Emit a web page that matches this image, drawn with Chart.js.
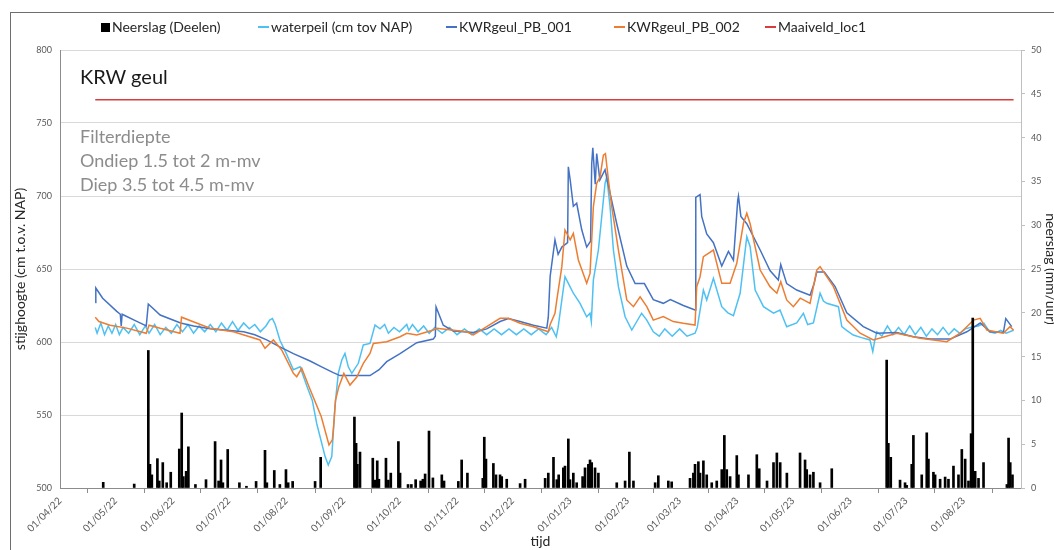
<!DOCTYPE html>
<html>
<head>
<meta charset="utf-8">
<script src="https://cdn.jsdelivr.net/npm/chart.js@4.4.1/dist/chart.umd.min.js"></script>
<style>
body{margin:0;background:#fff;font-family:Lato,"Open Sans",sans-serif;}
#wrap{position:relative;width:1054px;height:550px;overflow:hidden;}
#frame{position:absolute;left:10px;top:12px;width:1100px;height:600px;border:1px solid #6e6e6e;}
canvas{position:absolute;left:0;top:0;}
.lg{position:absolute;top:18px;font-size:14px;color:#262626;white-space:nowrap;line-height:18px;}
.lg i{display:inline-block;vertical-align:middle;margin-right:2px;position:relative;top:-1px;}
.sq{width:9px;height:9px;background:#000;}
.ln{width:11px;height:2px;}
.note{position:absolute;left:80px;white-space:nowrap;}
</style>
</head>
<body>
<div id="wrap">
  <div id="frame"></div>
  <canvas id="chart" width="1054" height="550"></canvas>
  <div class="lg" style="left:101px"><i class="sq"></i>Neerslag (Deelen)</div>
  <div class="lg" style="left:258px"><i class="ln" style="background:#4EC1F2"></i>waterpeil (cm tov NAP)</div>
  <div class="lg" style="left:446px"><i class="ln" style="background:#4472C4"></i>KWRgeul_PB_001</div>
  <div class="lg" style="left:614px"><i class="ln" style="background:#ED7D31"></i>KWRgeul_PB_002</div>
  <div class="lg" style="left:765px"><i class="ln" style="background:#DC3B3B"></i>Maaiveld_loc1</div>
  <div class="note" style="top:63px;font-size:20px;line-height:26px;color:#1a1a1a">KRW geul</div>
  <div class="note" style="top:124px;font-size:18px;line-height:24px;color:#8c8c8c">Filterdiepte<br>Ondiep 1.5 tot 2 m-mv<br>Diep 3.5 tot 4.5 m-mv</div>
</div>
<script>
// x = days since 01/04/22
const tickLabels = ['01/04/22','01/05/22','01/06/22','01/07/22','01/08/22','01/09/22','01/10/22','01/11/22','01/12/22',
  '01/01/23','01/02/23','01/03/23','01/04/23','01/05/23','01/06/23','01/07/23','01/08/23'];
const xEnd = '01/09/23';

// neerslag Deelen [day, mm/uur]
const neerslag = [[23.3,0.65],[40,0.45],[47.6,15.7],[48.5,2.7],[49.5,1.5],[52.5,3.35],[53.5,0.8],[55.4,2.9],[57.5,0.6],[59.7,1.8],
  [64.3,4.45],[65.6,8.56],[66.5,1.3],[68,1.9],[69.2,4.7],[73,0.4],[78.7,0.95],[83.6,5.3],[85.5,0.8],[86.8,3.2],[87.8,0.6],[90.4,4.4],
  [96.7,0.6],[100.5,0.2],[105.7,0.75],[110.5,4.3],[111.5,0.6],[115.5,2.0],[118.5,0.4],[121.8,2.1],[123,0.6],[125.4,0.75],
  [137.5,0.75],[140.5,3.5],[158.7,8.1],[159.6,5.1],[160.3,2.7],[161.7,4.1],[168.6,3.4],[169.9,0.9],[171,3.1],[171.9,1.0],
  [175.7,3.4],[177,0.9],[178.3,1.7],[182.4,5.3],[183.3,1.7],[187.6,0.4],[189.4,0.4],[191.7,0.95],[194.4,0.8],[195.6,1.0],
  [196.8,1.6],[198.9,6.5],[201,1.15],[205.8,1.5],[207,0.8],[214.7,0.75],[216.5,3.2],[219.6,1.7],[227.9,1.1],[228.7,5.8],
  [229.6,3.3],[233.6,2.8],[235,1.5],[237.2,1.5],[238.1,1.3],[240.8,1.0],[248,0.5],[250.7,1.0],[261.5,1.1],[263.2,1.7],
  [266,3.5],[267.8,0.95],[268.8,1.5],[271.3,2.3],[272.2,2.5],[274,5.6],[274.9,0.95],[276.7,1.7],[278.5,0.6],[281.7,1.3],
  [283,2.3],[284.8,2.7],[285.7,3.2],[286.6,2.9],[288.4,2.3],[290.2,1.7],[300.1,0.6],[304.6,0.8],[306.9,4.1],[309.1,0.8],
  [320.8,0.6],[322.5,1.4],[327.9,0.8],[329.7,0.7],[339.6,1.1],[341.4,1.7],[342.3,2.7],[344.1,3.0],[345,1.7],[346.8,3.1],
  [348.6,1.5],[351.3,0.6],[354,0.8],[356.7,2.1],[358.1,6.0],[359.4,2.1],[361.2,1.3],[364.8,3.7],[365.7,1.5],[371.1,1.5],
  [375.6,3.8],[376.9,2.2],[381.1,0.8],[384.6,2.9],[386.4,4.0],[388.2,2.9],[391.8,1.7],[398.9,4.0],[401.6,3.2],[402.5,2.1],
  [404.3,1.5],[406.1,1.8],[409.7,0.6],[416,2.2],[445.6,14.6],[446.5,5.1],[447.8,3.5],[452.8,0.9],[455.5,0.6],[456.4,0.3],
  [459.1,2.7],[460,6.0],[464.5,1.5],[467.2,6.3],[468.1,3.3],[470.8,1.8],[471.7,1.5],[474.4,1.0],[477.1,1.25],[478.9,1.0],
  [481.6,2.5],[484.3,1.5],[486.1,4.4],[487.9,3.3],[489.7,0.8],[491.1,6.2],[492,19.4],[493.3,1.9],[495.1,1.1],[497.8,2.9],
  [510.4,0.4],[511.3,5.7],[512.2,2.9],[513.4,1.5]];

// waterpeil (cm tov NAP) [day, cm]
const waterpeil = [[19,610],[20,606],[22,613],[24,605],[26,611],[28,606],[30,612],[32,605],[34,610],[37,606],[40,612],[43,605],
  [46,611],[48,606],[51,612],[54,605],[57,610],[60,606],[63,612],[66,607],[69,612],[72,606],[75,611],[78,607],[81,612],[84,607],
  [87,613],[90,608],[93,614],[96,608],[99,613],[102,609],[105,612],[108,607],[111,611],[113,615],[114.5,616],[116,612],
  [118.6,601],[122,592],[125.8,581],[129.4,583],[133,570],[136,560],[138.4,544],[142.9,521.5],[144.6,515.8],[146.5,521.5],
  [148.2,555.7],[150,578.5],[151.9,587.7],[153.6,592.2],[155.4,583],[157.3,578.5],[160.8,585.4],[163.5,598],[167.1,599],
  [169.8,611.6],[172.5,609],[175,612],[177,606],[180,610],[183,607],[186.9,612],[188,608],[190,612],[193,607],[196,611],
  [199,606],[202,610],[206,606],[210,610],[214,605],[218,609],[222,605],[226,609],[230,605],[234,609],[238,605],[242,609],
  [246,605],[250,609],[254,605],[258,609],[262,605],[265,610],[267.5,603.6],[268.5,610],[272.2,644.7],[274.9,637.9],
  [276.7,633.4],[280.3,626.5],[283.9,617.3],[285.7,619.7],[286.4,614],[287.5,642.5],[290.2,663],[292,685.8],[293.8,708.7],
  [294.7,713],[296.5,692.7],[298.3,663],[301,637.9],[304.6,617.3],[308.2,608.2],[313.5,619.7],[316.3,615],[319.8,607],
  [323,604],[326,609],[330,604],[334,609],[338,604],[342.3,606],[343.5,610],[346.8,635.6],[348.6,628.8],[352.2,643.6],
  [356.7,624.2],[360,620],[363,618],[366.6,633.4],[370.2,672.1],[372,665.3],[374.7,635.6],[379.2,624.2],[384.6,619.7],
  [388.1,621.9],[391.7,610.5],[397.1,613.1],[400.7,619.7],[403,612],[406.1,613.1],[409.7,633.4],[411.5,628],[413.3,626.5],
  [419.6,624.2],[421.4,610.5],[424,608],[427.6,604.8],[432,603],[436.6,601.4],[438.1,593.4],[439,600],[440.3,607],[443,604],
  [446,611],[449,605],[452,610],[455,605],[458,611],[461,605],[464,610],[467,604],[470,609],[473,605],[476,610],[479,605],
  [482,609],[485,606],[488,609],[492,610.5],[495,611],[498,612.8],[501,607],[504,606],[507,608],[510,606],[514,608]];

// KWRgeul_PB_001 [day, cm]
const pb001 = [[19,627],[19.3,637],[23,630],[30.6,621],[32.5,619],[33,611],[33.5,619],[40,615],[46.5,611],[47.6,626],[54,618.5],
  [65,613],[72,611],[81,609],[90,608],[99,607],[105,605],[111.4,601.5],[118,597],[125.8,592],[134.8,587],[141,583],[147.3,579],
  [150.9,577],[160,577],[167.1,577],[172,581],[176.1,586.5],[183.3,592],[192.3,599.5],[201.2,602],[202.3,604],[202.7,624],
  [206.6,611.5],[212,607.5],[222.8,606.5],[230,609],[237.2,614],[241.7,616],[248,614],[255.2,611.5],[262.4,609.5],[263.2,617],
  [264.2,645],[266.8,670],[268.5,660],[270.5,665],[273.6,668],[274,720],[275,711],[276.7,693],[278.5,695],[281.2,677],
  [283.9,665],[286,669],[286.6,722],[287.2,733],[288.5,708],[289.3,729],[291,711],[293.8,718],[296.5,702],[300.1,681],
  [305.5,652],[310,640],[315,640],[319.8,629],[325.2,626.5],[329,629],[336,625],[342.3,622],[342.7,699],[345,701],[345.9,686],
  [348.6,674],[352.2,668],[356.7,652],[360.3,662],[363,656],[365.3,697],[365.7,700],[367,686],[370.2,681],[377.4,663],
  [382.7,649],[387.2,642.5],[388.5,653],[391.7,640],[397.1,635.6],[404.3,632],[406.5,640],[407.9,648],[412,648],[417.8,638],
  [424.1,620],[433,610.5],[440.3,606],[451,606.5],[460,603.6],[469,602],[479.8,602],[488.8,607],[496,613],[501.3,607],
  [508.5,606.5],[509.8,616],[513,610.5]];

// KWRgeul_PB_002 [day, cm]
const pb002 = [[19,617],[21,614],[27,611.5],[36,609.5],[46.5,606],[48,611.5],[54,609.4],[64.7,606],[65.5,617],[71.5,614],
  [80.9,609.4],[93.5,607],[107.8,601.4],[110.5,595.7],[115,601.4],[119.5,594.5],[125.8,578.5],[127.6,576.2],[130.3,582],
  [134,570],[140.8,549],[145,529.5],[146.8,533],[147.6,544],[148.5,560],[150.3,569.4],[153,578.5],[156.3,570.5],[160,576],
  [163.5,585.4],[167.1,592.2],[168.9,599],[176.1,600.2],[183.3,603.6],[186.9,606],[192.3,604.8],[201.2,608.2],[203,609.4],
  [219.2,607],[222.8,604.8],[230,610.5],[237.2,616.2],[241.7,616.2],[248,612.8],[255.2,610.5],[263.2,607],[264.2,612],
  [266.8,619.7],[267.8,628.8],[270.5,651.6],[272.2,676.7],[275,670],[276.7,674.4],[279.4,656.2],[283.9,640.2],[285.7,647],
  [287.5,692.7],[289.3,708.7],[291.1,713.2],[292.9,728],[294,729],[295.6,711],[297.4,692.7],[301,663],[305.5,628.8],
  [309.1,624.2],[312.7,631],[316.3,624.2],[319.8,615],[325.2,617.4],[330.6,614],[336,612.8],[342.3,611.6],[343.2,637.9],
  [345,644.7],[346.8,658.4],[352.2,663],[356.7,640.2],[361.2,640.2],[364.8,653.9],[368.4,681.3],[370.2,688.2],[372,681],
  [377.4,649.3],[382.7,637.9],[386.4,633.4],[388.5,641.3],[391.7,628.8],[395.3,624.2],[399,630],[404.3,626.5],[407.9,649.3],
  [409.7,651.6],[416.9,637.9],[424.1,615],[431.3,606],[438.4,601.4],[451,606],[463.6,602.5],[478,600.2],[485.2,606],
  [492.4,615],[496,616.2],[499.6,608.2],[508.5,606],[512.1,610.5],[514,608]];

// Maaiveld_loc1 [day, cm]
const maaiveld = [[19,766],[514,766]];

function toDay(s) {
  const [d, m, y] = s.split('/').map(Number);
  return (Date.UTC(2000 + y, m - 1, d) - Date.UTC(2022, 3, 1)) / 864e5;
}
const tickDays = tickLabels.map(toDay);
const xy = arr => arr.map(p => ({x: p[0], y: p[1]}));

Chart.defaults.font.family = 'Lato, "Open Sans", sans-serif';
Chart.defaults.color = '#595959';

function line(label, data, color, order) {
  return {type: 'line', label: label, data: xy(data), borderColor: color, backgroundColor: color,
    borderWidth: 1.5, pointRadius: 0, tension: 0, yAxisID: 'y', order: order};
}

new Chart(document.getElementById('chart'), {
  type: 'bar',
  data: {
    datasets: [
      {label: 'Neerslag (Deelen)', data: xy(neerslag), backgroundColor: '#000', barThickness: 2, yAxisID: 'y1', order: 0},
      line('waterpeil (cm tov NAP)', waterpeil, '#4EC1F2', 3),
      line('KWRgeul_PB_001', pb001, '#4472C4', 2),
      line('KWRgeul_PB_002', pb002, '#ED7D31', 1),
      line('Maaiveld_loc1', maaiveld, '#DC3B3B', 4)
    ]
  },
  options: {
    responsive: false,
    animation: false,
    devicePixelRatio: 1,
    layout: {padding: {top: 50, left: 0, right: 0, bottom: 0}},
    plugins: {legend: {display: false}, tooltip: {enabled: false}},
    scales: {
      x: {
        type: 'linear', min: 0, max: toDay(xEnd), offset: false,
        afterBuildTicks: s => { s.ticks = tickDays.map(v => ({value: v})); },
        afterFit: s => { s.height = 62; },
        ticks: {autoSkip: false, maxRotation: 45, minRotation: 45, font: {size: 10}, padding: 2,
          callback: (v, i) => tickLabels[i]},
        grid: {drawOnChartArea: false, tickLength: 5, color: '#8c8c8c'},
        border: {color: '#8c8c8c'},
        title: {display: true, text: 'tijd', font: {size: 14}, color: '#262626', padding: {top: 0, bottom: 0}}
      },
      y: {
        position: 'left', min: 500, max: 800,
        afterFit: s => { s.width = 60; },
        ticks: {stepSize: 50, font: {size: 9}, padding: 8},
        grid: {color: '#D9D9D9', drawTicks: false},
        border: {color: '#8c8c8c'},
        title: {display: true, text: 'stijghoogte (cm t.o.v. NAP)', font: {size: 14}, color: '#262626', padding: {top: 12}}
      },
      y1: {
        position: 'right', min: 0, max: 50,
        afterFit: s => { s.width = 33; },
        ticks: {stepSize: 5, font: {size: 9}, padding: 6},
        grid: {drawOnChartArea: false, tickLength: 4, color: '#BFBFBF'},
        border: {color: '#BFBFBF'},
        title: {display: true, text: 'neerslag (mm/uur)', font: {size: 14}, color: '#262626', padding: {top: -5}}
      }
    }
  }
});
</script>
</body>
</html>
